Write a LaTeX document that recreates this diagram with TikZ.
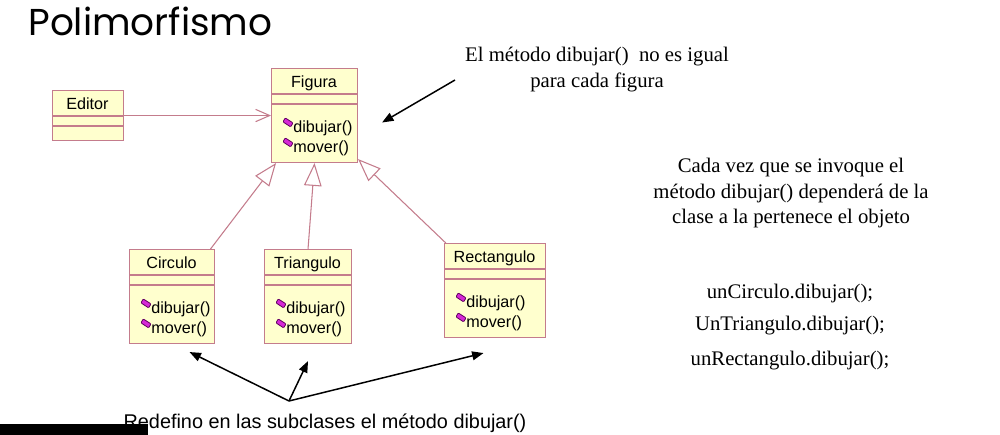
\documentclass[tikz,border=0pt]{standalone}
\usepackage{fontspec}
\setmainfont{Liberation Serif}
\setsansfont{Liberation Sans}
\newfontfamily\titlefont{Poppins}
\usetikzlibrary{arrows.meta,calc}

\definecolor{umlfill}{RGB}{255,255,206}
\definecolor{umlline}{RGB}{196,124,140}
\definecolor{opmark}{RGB}{214,40,214}
\definecolor{opedge}{RGB}{96,0,96}
\definecolor{overlay}{RGB}{22,22,32}

\tikzset{
  classbox/.style={draw=umlline, fill=umlfill, line width=0.6pt, anchor=north west, inner sep=0pt},
  classname/.style={font=\sffamily\fontsize{9.2}{10}\selectfont, anchor=base, inner sep=0pt},
  opname/.style={font=\sffamily\fontsize{9.2}{10}\selectfont, anchor=base west, inner sep=0pt},
  inherit/.style={draw=umlline, line width=0.6pt, -{Triangle[open, length=13pt, width=10pt]}},
  assoc/.style={draw=umlline, line width=0.6pt, -{Straight Barb[length=8pt, width=7pt]}},
  pointer/.style={draw=black, line width=0.85pt, -{Triangle[length=6.5pt, width=5pt]}},
  remark/.style={font=\fontsize{11.8}{14.4}\selectfont, align=center, inner sep=0pt},
  opicon/.pic={\filldraw[fill=opmark, draw=opedge, line width=0.45pt, rounded corners=0.5pt] (-2.8,-4.6) -- (5.0,0.4) -- (2.6,4.4) -- (-5.0,-0.6) -- cycle;}
}

% class box: name and two compartment lines
\newcommand{\umlclass}[6]{%
  \node[classbox, minimum width=#5*0.02cm, minimum height=#6*0.02cm] (#1) at (#3,#4) {};
  \node[classname] (#1-name) at (#3+#5/2,#4+20) {#2};
  \draw[umlline, line width=0.6pt] (#3,#4+26) -- (#3+#5,#4+26);
  \draw[umlline, line width=0.6pt] (#3,#4+36) -- (#3+#5,#4+36);
}
% the two operations of every figure
\newcommand{\umlops}[3]{%
  \pic at (#2+17,#3+54.5) {opicon};
  \node[opname] (#1-dib) at (#2+22,#3+64.5) {dibujar()};
  \pic at (#2+17,#3+74.5) {opicon};
  \node[opname] (#1-mov) at (#2+22,#3+84.5) {mover()};
}

\begin{document}
\begin{tikzpicture}[x=0.02cm, y=-0.02cm]
  % Page
  \fill[white] (0,0) rectangle (1000,435);
  \node[font=\titlefont\fontsize{21.3}{24}\selectfont, anchor=base west, inner sep=0pt] (title) at (28,36) {Polimorfismo};
  % Classes
  \umlclass{ed}{Editor}{52}{90}{71}{50}
  \umlclass{fig}{Figura}{271}{68}{86}{94}
  \umlops{fig}{271}{68}
  \foreach \nm/\lb/\x/\y/\w in {cir/Circulo/129/249/85, tri/Triangulo/264/249/87, rec/Rectangulo/444/243/101}{
    \umlclass{\nm}{\lb}{\x}{\y}{\w}{94}
    \umlops{\nm}{\x}{\y}
  }
  % Association and inheritance
  \draw[assoc] (ed.east) -- (ed.east -| fig.west);
  \draw[inherit] (cir.51) -- (fig.231);
  \draw[inherit] (tri.north) -- (fig.south);
  \draw[inherit] (rec.136) -- (fig.-45);
  % Remarks
  \node[remark, anchor=north] (note) at (597,47) {El método dibujar()~ no es igual\\para cada figura};
  \node[remark, anchor=north] (expl) at (791,158) {Cada vez que se invoque el\\método dibujar() dependerá de la\\clase a la pertenece el objeto};
  \node[remark, anchor=base] (call1) at (790,298) {unCirculo.dibujar();};
  \node[remark, anchor=base] (call2) at (790,331) {UnTriangulo.dibujar();};
  \node[remark, anchor=base] (call3) at (790,365) {unRectangulo.dibujar();};
  \coordinate (notetail) at (455,80);
  \draw[pointer] (notetail) -- ($(fig.east)+(24,7)$);
  % Bottom text and its arrows
  \node[font=\sffamily\fontsize{11.3}{13}\selectfont, anchor=base, inner sep=0pt] (redef) at (325,428) {Redefino en las subclases el método dibujar()};
  \coordinate (hub) at (289,401);
  \foreach \tgt/\dx/\dy in {cir/17.5/8, tri/0/17, rec/-11.5/15}
    \draw[pointer] (hub) -- ($(\tgt.south)+(\dx,\dy)$);
  \fill[overlay] (0,424) rectangle (148,435);
\end{tikzpicture}
\end{document}
